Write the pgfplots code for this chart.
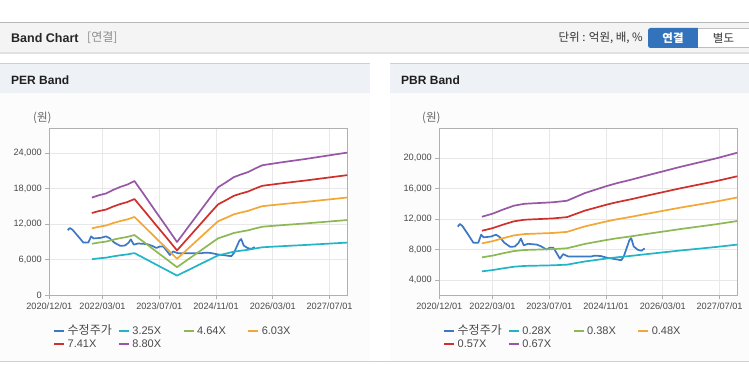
\documentclass[border=0pt]{standalone}
\usepackage{pgfplots}
\pgfplotsset{compat=1.18}
\usepackage{fontspec}
\setmainfont{Liberation Sans}
\newfontfamily\cjk{Noto Sans CJK KR}
\definecolor{cPrice}{HTML}{3C78C6}
\definecolor{cCyan}{HTML}{22B5C8}
\definecolor{cGreen}{HTML}{8DB954}
\definecolor{cOrange}{HTML}{F3A734}
\definecolor{cRed}{HTML}{CF302B}
\definecolor{cPurple}{HTML}{9857A6}
\definecolor{hdr}{HTML}{F4F4F4}
\definecolor{ptitle}{HTML}{EEF1F6}
\definecolor{pbody}{HTML}{FCFCFC}
\definecolor{linec}{HTML}{CFCFCF}
\definecolor{gridc}{HTML}{E8E8E8}
\definecolor{axisc}{HTML}{B0B0B0}
\definecolor{tickc}{HTML}{4A4A4A}
\definecolor{btnblue}{HTML}{3273BC}

\pgfplotstableread{
m v
5.2 11000
5.8 11350
6.5 11100
7.5 10400
8.5 9700
9.6 8900
11.0 8900
11.8 9950
12.5 9600
14.5 9700
16.0 9950
17.0 9650
18.3 8900
20.0 8350
21.3 8400
22.3 8850
23.0 9450
23.8 8550
25.0 8750
27.5 8650
28.8 8400
30.2 8000
31.2 8250
32.1 8250
32.8 7750
34.0 6800
34.9 7400
36.3 7100
42.9 7100
43.8 7200
45.5 7150
47.5 6900
49.5 6750
51.3 6600
52.0 7100
53.6 9250
54.1 9500
54.8 8400
56.0 7950
57.0 7850
57.9 8150
}\price

\pgfplotstableread{
m c g o r p
12 6094 8700 11306 13894 16500
14 6242 8911 11580 14231 16900
16 6352 9069 11786 14483 17200
18 6574 9385 12197 14988 17800
20 6759 9649 12540 15410 18300
22 6906 9860 12814 15746 18700
24 7128 10176 13225 16252 19300
27 6186 8832 11478 14104 16750
30 5226 7461 9696 11915 14150
33 4284 6116 7949 9768 11600
36 3324 4745 6167 7578 9000
38 3915 5589 7263 8926 10600
40 4506 6433 8360 10273 12200
42 5097 7276 9456 11620 13800
44 5688 8120 10553 12968 15400
46 6278 8964 11649 14315 17000
47.6 6740 9623 12505 15367 18250
50 7072 10097 13122 16125 19150
52 7368 10519 13670 16799 19950
54 7534 10756 13979 17178 20400
56 7682 10967 14253 17515 20800
58 7903 11284 14664 18020 21400
60 8107 11574 15041 18483 21950
61 8143 11626 15109 18567 22050
66 8310 11864 15418 18946 22500
72 8494 12127 15760 19367 23000
78 8698 12417 16137 19830 23550
84 8901 12707 16514 20293 24100
}\per

\pgfplotstableread{
m c g o r p
12 5140 6976 8812 10464 12300
15 5307 7203 9098 10804 12700
18 5537 7515 9492 11272 13250
21 5746 7799 9851 11697 13750
24 5851 7940 10030 11910 14000
28 5892 7997 10101 11995 14100
32 5934 8054 10173 12080 14200
36 6018 8167 10316 12250 14400
38 6185 8394 10603 12590 14800
41 6436 8735 11033 13101 15400
44 6624 8990 11355 13484 15850
47 6812 9245 11677 13866 16300
50 6979 9472 11964 14207 16700
54 7167 9727 12286 14590 17150
58 7376 10011 12645 15015 17650
63 7627 10351 13075 15525 18250
68 7877 10691 13504 16036 18850
73 8107 11003 13898 16504 19400
78 8337 11315 14292 16971 19950
84 8650 11741 14830 17610 20700
}\pbr

\pgfplotsset{
  bandaxis/.style={
    width=298pt, height=167pt, scale only axis,
    xmin=0, xmax=84,
    xtick={0,15,31,47,63,79},
    xticklabels={2020/12/01,2022/03/01,2023/07/01,2024/11/01,2026/03/01,2027/07/01},
    grid=major, major grid style={draw=gridc, line width=0.7pt},
    axis line style={draw=axisc, line width=0.9pt},
    tick style={draw=axisc, line width=0.7pt},
    tick align=outside, major tick length=4pt,
    xtick pos=left, ytick pos=left,
    ticklabel style={font=\fontsize{9.2}{10}\selectfont, text=tickc},
    /pgf/number format/assume math mode=true,
    scaled y ticks=false,
    yticklabel style={/pgf/number format/.cd, 1000 sep={,}},
    axis background/.style={fill=white},
    every axis plot/.append style={line width=1.7pt, mark=none, line join=round},
    legend columns=4,
    legend style={draw=none, fill=none, at={(0,0)}, anchor=north west,
      xshift=3.5pt, yshift=-30.5pt, inner sep=0pt, row sep=2.5pt,
      font=\fontsize{11}{12}\selectfont,
      nodes={inner sep=0pt, text height=8pt, text depth=2.5pt, text=tickc},
      /tikz/every odd column/.append style={column sep=2.5pt}},
    legend cell align=left,
    legend image code/.code={\draw[#1, line width=2.2pt] (0pt,0pt) -- (10pt,0pt);},
  }
}

\begin{document}
\begin{tikzpicture}[x=1pt,y=1pt]
\path[use as bounding box] (0,0) rectangle (749,364);
\fill[white] (0,0) rectangle (749,364);
% header
\fill[black!12] (0,309.5) rectangle (749,312);
\fill[hdr] (0,312) rectangle (749,342);
\draw[black!28, line width=1pt] (0,341.5) -- (749,341.5);
\node[anchor=west, inner sep=0pt, font=\bfseries\fontsize{12.5}{14}\selectfont, text=black!85] at (11,326) {Band Chart};
\node[anchor=west, inner sep=0pt, font=\cjk\fontsize{12}{13}\selectfont, text=black!45] at (87,326) {[연결]};
\node[anchor=east, inner sep=0pt, font=\cjk\fontsize{11.5}{12}\selectfont, text=black!80] at (643,326) {단위 : 억원, 배, \%};
\fill[btnblue, rounded corners=2.5pt] (648,316) rectangle (700,336);
\fill[white] (698,316) rectangle (749,336);
\draw[black!25] (698,316.5) -- (749,316.5) (698,335.5) -- (749,335.5);
\fill[btnblue] (690,316) rectangle (698,336);
\node[inner sep=0pt, font=\cjk\bfseries\fontsize{11.5}{12}\selectfont, text=white] at (673,326) {연결};
\node[inner sep=0pt, font=\cjk\fontsize{11.5}{12}\selectfont, text=black!80] at (723.5,326) {별도};
% panels
\foreach \xa/\xb in {0/370,389.5/749}{
  \fill[pbody] (\xa,2.3) rectangle (\xb,271);
  \fill[ptitle] (\xa,271) rectangle (\xb,300);
  \draw[linec, line width=1pt] (\xa,300) -- (\xb,300);
}
\draw[linec, line width=1pt] (0,2.3) -- (749,2.3);
\node[anchor=west, inner sep=0pt, font=\bfseries\fontsize{12}{14}\selectfont, text=black!88] at (11,283.5) {PER Band};
\node[anchor=west, inner sep=0pt, font=\bfseries\fontsize{12}{14}\selectfont, text=black!88] at (401,283.5) {PBR Band};
\node[anchor=west, inner sep=0pt, font=\cjk\fontsize{11.5}{12}\selectfont, text=black!60] at (33,246) {(원)};
\node[anchor=west, inner sep=0pt, font=\cjk\fontsize{11.5}{12}\selectfont, text=black!60] at (422,246) {(원)};

\begin{axis}[bandaxis, at={(49.3pt,68.7pt)}, anchor=south west,
  ymin=0, ymax=28200, ytick={0,6000,12000,18000,24000}]
\addplot[cPrice] table[x=m,y=v] {\price};
\addlegendentry{\makebox[50pt][l]{\cjk\fontsize{12}{12}\selectfont 수정주가}}
\addplot[cCyan] table[x=m,y=c] {\per};
\addlegendentry{\makebox[50pt][l]{3.25X}}
\addplot[cGreen] table[x=m,y=g] {\per};
\addlegendentry{\makebox[50pt][l]{4.64X}}
\addplot[cOrange] table[x=m,y=o] {\per};
\addlegendentry{\makebox[50pt][l]{6.03X}}
\addplot[cRed] table[x=m,y=r] {\per};
\addlegendentry{\makebox[50pt][l]{7.41X}}
\addplot[cPurple] table[x=m,y=p] {\per};
\addlegendentry{\makebox[50pt][l]{8.80X}}
\end{axis}

\begin{axis}[bandaxis, at={(439.3pt,68.7pt)}, anchor=south west,
  ymin=2000, ymax=23900, ytick={4000,8000,12000,16000,20000}]
\addplot[cPrice] table[x=m,y=v] {\price};
\addlegendentry{\makebox[50pt][l]{\cjk\fontsize{12}{12}\selectfont 수정주가}}
\addplot[cCyan] table[x=m,y=c] {\pbr};
\addlegendentry{\makebox[50pt][l]{0.28X}}
\addplot[cGreen] table[x=m,y=g] {\pbr};
\addlegendentry{\makebox[50pt][l]{0.38X}}
\addplot[cOrange] table[x=m,y=o] {\pbr};
\addlegendentry{\makebox[50pt][l]{0.48X}}
\addplot[cRed] table[x=m,y=r] {\pbr};
\addlegendentry{\makebox[50pt][l]{0.57X}}
\addplot[cPurple] table[x=m,y=p] {\pbr};
\addlegendentry{\makebox[50pt][l]{0.67X}}
\end{axis}
\end{tikzpicture}
\end{document}
